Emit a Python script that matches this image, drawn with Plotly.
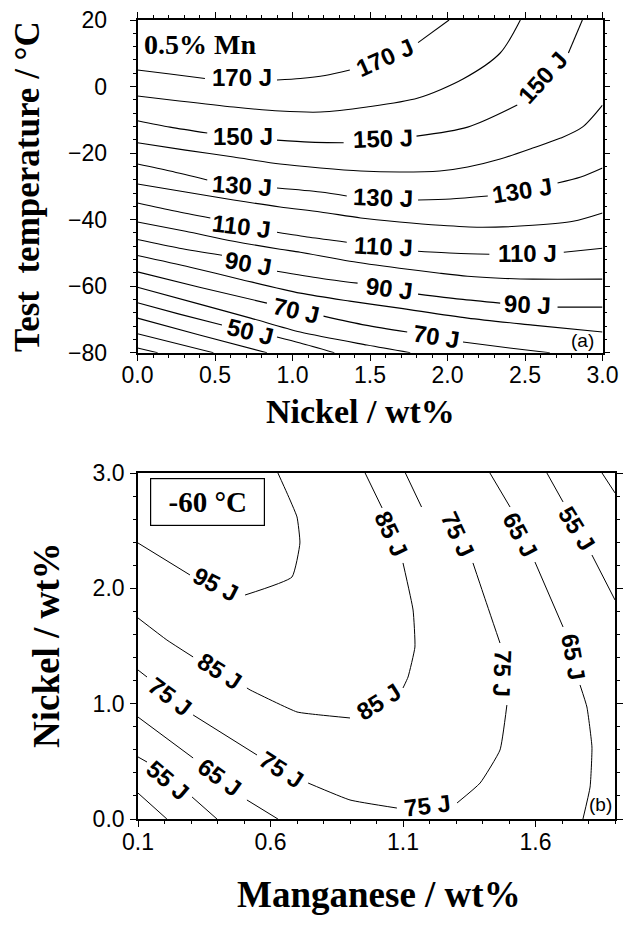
import plotly.graph_objects as go

# ---------------- panel (a): 0.5 % Mn — nickel vs. test temperature ----------------
# Each iso-energy line is a list of (Ni wt%, T degC) points; None breaks the line
# where its energy label is written.
a170 = [(0.00, 4.96), (0.21, 3.76), (0.435, 2.41), None,
        (0.90, 1.95), (1.05, 2.41), (1.21, 3.31), (1.37, 4.96), None,
        (1.81, 13.2), (2.01, 20.0)]
a160 = [(0.00, -2.86), (0.27, -4.36), (0.62, -6.17), (0.92, -7.37), (1.18, -7.67),
        (1.48, -6.17), (1.81, -3.46), (2.10, 2.26), (2.34, 10.08), (2.47, 20.0)]
a150 = [(0.00, -10.27), (0.21, -12.2), (0.45, -13.98), None,
        (0.90, -16.1), (1.11, -16.7), (1.33, -16.9), None,
        (1.80, -14.9), (2.13, -12.2), (2.45, -5.56), None,
        (2.78, 10.08), (2.87, 20.0)]
a140 = [(0.00, -16.9), (0.31, -19.1), (0.62, -21.2), (0.92, -23.3), (1.18, -24.5),
        (1.44, -25.4), (1.69, -25.7), (1.95, -25.4), (2.13, -24.2), (2.34, -21.8),
        (2.55, -18.5), (2.73, -15.5), (2.87, -12.2), (3.00, -5.56)]
a130 = [(0.00, -23.3), (0.21, -25.4), (0.45, -28.1), None,
        (0.90, -30.5), (1.18, -31.7), (1.35, -32.9), None,
        (1.81, -34.1), (2.02, -33.8), (2.26, -32.9), None,
        (2.71, -29.0), (2.86, -27.2), (3.00, -24.5)]
a120 = [(0.00, -29.3), (0.31, -31.7), (0.62, -34.1), (0.92, -36.2), (1.18, -37.7),
        (1.44, -39.5), (1.69, -40.7), (1.95, -41.7), (2.21, -42.3), (2.55, -41.7),
        (2.81, -40.5), (3.00, -38.0)]
a110 = [(0.00, -35.0), (0.24, -37.4), (0.47, -39.5), None,
        (0.90, -43.8), (1.11, -45.3), (1.35, -46.8), None,
        (1.81, -49.5), (2.05, -50.1), (2.27, -50.4), None,
        (2.75, -49.8), (3.00, -48.6)]
a100 = [(0.00, -40.7), (0.31, -43.5), (0.62, -46.5), (0.92, -48.9), (1.05, -49.8),
        (1.37, -52.5), (1.69, -54.6), (1.95, -56.1), (2.13, -57.0), (2.34, -57.6),
        (2.55, -57.9), (3.00, -57.9)]
a90 = [(0.00, -46.0), (0.27, -48.6), (0.545, -50.7), None,
       (0.90, -55.5), (1.18, -57.6), (1.42, -59.1), None,
       (1.81, -62.4), (2.08, -63.9), (2.34, -65.1), None,
       (2.71, -66.3), (3.00, -66.3)]
a80 = [(0.00, -50.8), (0.34, -54.3), (0.66, -57.9), (1.05, -62.1), (1.37, -64.5),
       (1.69, -66.6), (2.13, -69.6), (2.55, -71.7), (3.00, -73.8)]
a70 = [(0.00, -55.7), (0.40, -60.3), (0.835, -65.1), None,
       (1.20, -69.0), (1.47, -71.7), (1.74, -73.8), None,
       (2.10, -76.8), (2.40, -78.6), (2.66, -80.0)]
a60 = [(0.00, -60.3), (0.40, -65.4), (0.73, -69.6), (1.05, -73.8), (1.48, -77.7),
       (1.76, -80.0)]
a50 = [(0.00, -65.0), (0.27, -68.4), (0.545, -71.7), None,
       (0.90, -75.3), (1.05, -77.1), (1.27, -80.0)]
a40 = [(0.00, -69.6), (0.40, -74.7), (0.835, -80.0)]
a30 = [(0.00, -74.3), (0.49, -80.0)]
a20 = [(0.00, -78.6), (0.13, -80.0)]

panel_a_lines = [a170, a160, a150, a140, a130, a120, a110, a100,
                 a90, a80, a70, a60, a50, a40, a30, a20]

# energy (J) written on the lines of panel (a)
panel_a_labelled = [170, 170, 150, 150, 150, 130, 130, 130,
                    110, 110, 110, 90, 90, 90, 70, 70, 50]

# ---------------- panel (b): -60 degC — manganese vs. nickel ----------------
# (Mn wt%, Ni wt%) points
b95 = [(0.10, 2.393), (0.296, 2.116), None,
       (0.504, 1.942), (0.681, 2.098), (0.711, 2.393), (0.700, 2.619),
       (0.662, 2.827), (0.628, 3.0)]
b85 = [(0.10, 1.743), (0.209, 1.552), (0.308, 1.405), None,
       (0.511, 1.136), (0.523, 1.119), (0.700, 0.928), (0.787, 0.902), (0.900, 0.876), None,
       (1.100, 1.136), (1.119, 1.231), (1.145, 1.491), (1.138, 1.812), (1.100, 2.220), None,
       (1.021, 2.697), (0.957, 3.0)]
b75 = [(0.10, 1.292), (0.134, 1.231), None,
       (0.308, 0.902), (0.549, 0.555), None,
       (0.742, 0.312), (0.900, 0.165), (1.077, 0.095), None,
       (1.304, 0.139), (1.391, 0.312), (1.466, 0.598), (1.492, 0.988), None,
       (1.466, 1.526), (1.402, 1.960), (1.364, 2.220), None,
       (1.170, 2.705), (1.109, 3.0)]
b65 = [(0.10, 0.884), (0.308, 0.529), None,
       (0.511, 0.165), (0.628, 0.0), None,
       (1.428, 3.0), (1.504, 2.705), None,
       (1.598, 2.228), (1.704, 1.665), None,
       (1.768, 1.162), (1.794, 0.971), (1.813, 0.624), (1.806, 0.277), (1.779, 0.0)]
b55 = [(0.10, 0.538), (0.134, 0.494), None,
       (0.304, 0.191), (0.398, 0.0), None,
       (1.643, 3.0), (1.704, 2.749), None,
       (1.813, 2.289), (1.90, 1.899)]
b45 = [(0.10, 0.225), (0.209, 0.0), None,
       (1.851, 3.0), (1.90, 2.827)]

panel_b_lines = [b95, b85, b75, b65, b55, b45]

panel_b_labelled = [95, 85, 75, 65, 55, 85, 85, 75, 65, 75, 75, 75, 65, 55]

# ---------------- label placement (x, y in axis units, rotation in degrees) ----------------
panel_a_label_spots = [
    (0.674, 2.6, 0), (1.597, 8.6, -24),
    (0.681, -14.9, 0), (1.584, -15.5, -2), (2.616, 2.6, -48),
    (0.674, -29.6, 4), (1.584, -33.2, 2), (2.480, -31.1, -9),
    (0.674, -42.0, 7), (1.584, -48.0, 3), (2.513, -50.1, 0),
    (0.713, -53.1, 10), (1.623, -60.6, 7), (2.513, -65.4, 3),
    (1.023, -67.2, 13), (1.926, -75.0, 9),
    (0.726, -73.5, 14),
]
panel_b_label_spots = [
    (0.394, 2.029, 27),
    (1.058, 2.471, 65), (1.308, 2.471, 65), (1.545, 2.462, 62), (1.757, 2.523, 58),
    (0.409, 1.275, 33), (1.009, 1.023, -32), (1.477, 1.257, 92), (1.742, 1.406, 80),
    (0.221, 1.066, 37), (0.640, 0.425, 33), (1.191, 0.113, -7),
    (0.409, 0.356, 36), (0.213, 0.330, 40),
]

W, H = 633, 925
SANS = "Liberation Sans, Arial, sans-serif"
TICK_FONT = dict(family=SANS, size=23, color="black")
SERIF = "Liberation Serif, Times New Roman, serif"


def unzip(points):
    xs, ys = [], []
    for p in points:
        if p is None:
            xs.append(None)
            ys.append(None)
        else:
            xs.append(p[0])
            ys.append(p[1])
    return xs, ys


fig = go.Figure()

for pts in panel_a_lines:
    xs, ys = unzip(pts)
    fig.add_trace(go.Scatter(x=xs, y=ys, mode="lines", xaxis="x", yaxis="y",
                             line=dict(color="black", width=1.1, shape="spline", smoothing=0.8),
                             hoverinfo="skip", showlegend=False))

for pts in panel_b_lines:
    xs, ys = unzip(pts)
    fig.add_trace(go.Scatter(x=xs, y=ys, mode="lines", xaxis="x2", yaxis="y2",
                             line=dict(color="black", width=1.0, shape="spline", smoothing=0.4),
                             hoverinfo="skip", showlegend=False))

annotations = []
for level, (lx, ly, ang) in zip(panel_a_labelled, panel_a_label_spots):
    annotations.append(dict(x=lx, y=ly, xref="x", yref="y", text=f"<b>{level} J</b>",
                            showarrow=False, textangle=ang, xanchor="center", yanchor="middle",
                            font=dict(family=SANS, size=24, color="black")))
for level, (lx, ly, ang) in zip(panel_b_labelled, panel_b_label_spots):
    annotations.append(dict(x=lx, y=ly, xref="x2", yref="y2", text=f"<b>{level} J</b>",
                            showarrow=False, textangle=ang, xanchor="center", yanchor="middle",
                            font=dict(family=SANS, size=24, color="black")))


def px(xp):
    return xp / W


def py(yp):
    return 1 - yp / H


def paper_text(xp, yp, text, size, family=SERIF, angle=0, **extra):
    return dict(x=px(xp), y=py(yp), xref="paper", yref="paper", text=text,
                textangle=angle, showarrow=False, xanchor="center", yanchor="middle",
                font=dict(family=family, size=size, color="black"), **extra)


# axis titles and panel captions
annotations += [
    paper_text(28, 187, "<b>Test\u00a0\u00a0temperature / °C</b>", 35, angle=-90),
    paper_text(360, 411, "<b>Nickel / wt%</b>", 34),
    paper_text(46, 645, "<b>Nickel / wt%</b>", 37, angle=-90),
    paper_text(379, 894, "<b>Manganese / wt%</b>", 37),
    paper_text(200, 45, "<b>0.5% Mn</b>", 28),
    paper_text(582, 340, "(a)", 19, family=SANS),
    paper_text(600, 804, "(b)", 19, family=SANS),
    paper_text(207.5, 502, "<b>-60 °C</b>", 29, width=113, height=46,
               bordercolor="black", borderwidth=1.2, borderpad=0, bgcolor="white"),
]

axis_common = dict(showline=True, linecolor="black", linewidth=1.6,
                   ticks="outside", tickcolor="black", tickwidth=1.2, ticklen=6,
                   showgrid=False, zeroline=False, tickfont=TICK_FONT, automargin=False)

fig.update_layout(
    width=W, height=H, autosize=False,
    margin=dict(l=0, r=0, t=0, b=0, pad=0, autoexpand=False),
    paper_bgcolor="white", plot_bgcolor="white",
    showlegend=False,
    xaxis=dict(domain=[137.5 / W, 602.5 / W], range=[0, 3], anchor="y", mirror="ticks",
               tick0=0, dtick=0.5, tickformat=".1f", ticklabelstandoff=-5,
               minor=dict(dtick=0.1, ticks="outside", ticklen=3, tickcolor="black"),
               **axis_common),
    yaxis=dict(domain=[py(352.7), py(20)], range=[-80, 20], anchor="x", mirror="ticks",
               tick0=0, dtick=20, ticklabelstandoff=18,
               minor=dict(dtick=4, ticks="outside", ticklen=3, tickcolor="black"),
               **axis_common),
    xaxis2=dict(domain=[138 / W, 615 / W], range=[0.1, 1.9], anchor="y2", mirror=True,
                tick0=0.1, dtick=0.5, tickformat=".1f", ticklabelstandoff=-4,
                minor=dict(dtick=0.1, ticks="outside", ticklen=3, tickcolor="black"),
                **axis_common),
    # top edge of panel (b) carries its own tick marks at 0.5, 1.0, 1.5
    xaxis3=dict(domain=[138 / W, 615 / W], range=[0.1, 1.9], anchor="y2",
                overlaying="x2", side="top", tickvals=[0.5, 1.0, 1.5],
                showticklabels=False, ticks="outside", ticklen=6, tickwidth=1.2,
                tickcolor="black", showline=False, showgrid=False, zeroline=False,
                automargin=False),
    yaxis2=dict(domain=[py(819), py(473)], range=[0, 3], anchor="x2", mirror="ticks",
                tick0=0, dtick=1, tickformat=".1f", ticklabelstandoff=1,
                minor=dict(dtick=0.2, ticks="outside", ticklen=3, tickcolor="black"),
                **axis_common),
    annotations=annotations,
)

fig.write_html("out.html")
